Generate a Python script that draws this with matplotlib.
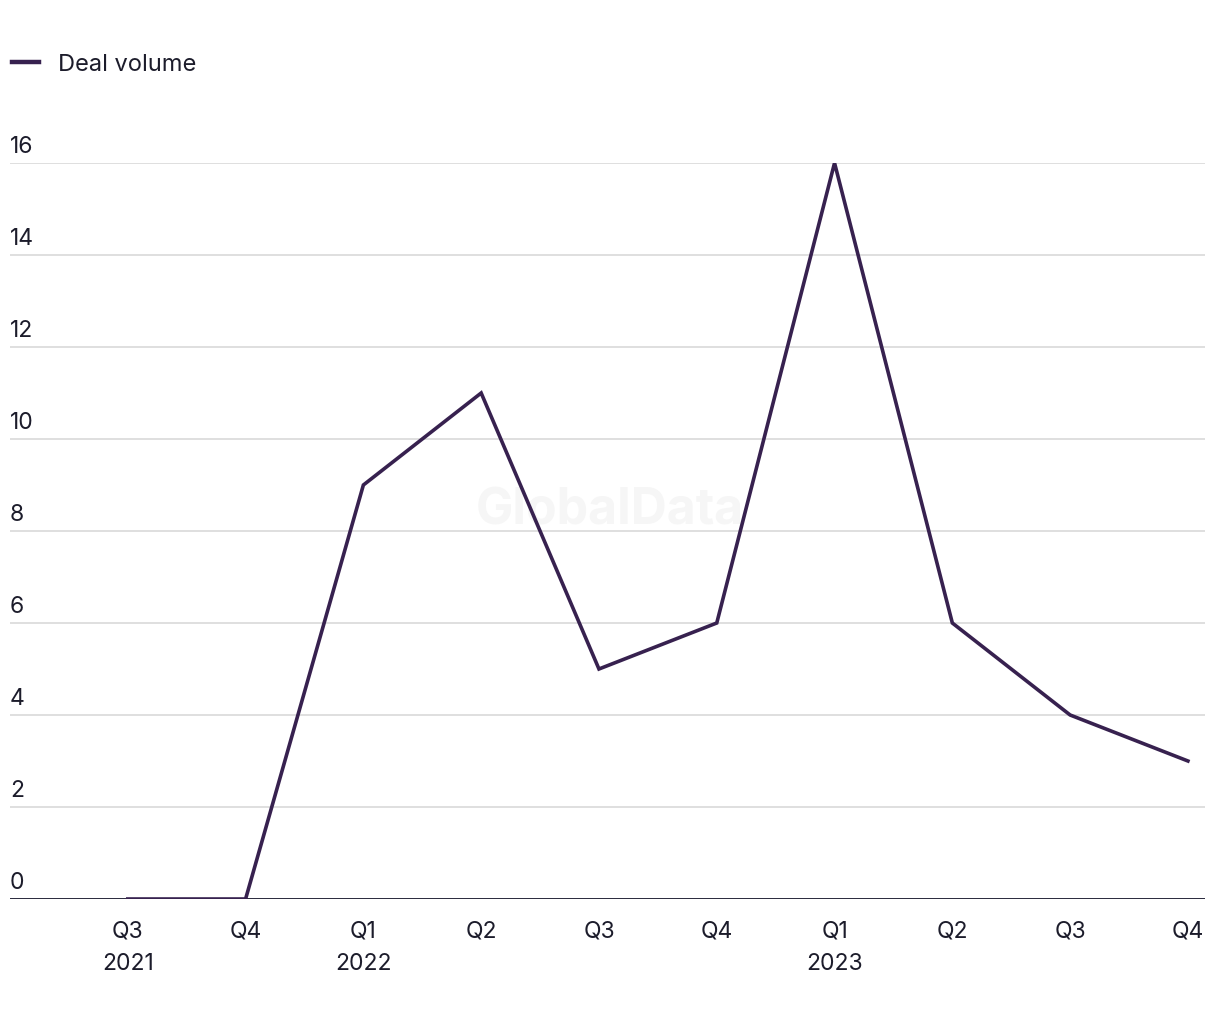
import matplotlib
matplotlib.use('Agg')
import matplotlib.pyplot as plt

plt.rcParams['font.family'] = ['Inter', 'DejaVu Sans']

quarters = ['Q3\n2021', 'Q4', 'Q1\n2022', 'Q2', 'Q3', 'Q4', 'Q1\n2023', 'Q2', 'Q3', 'Q4']
deal_volume = [0, 0, 9, 11, 5, 6, 16, 6, 4, 3]
y_ticks = [0, 2, 4, 6, 8, 10, 12, 14, 16]

line_color = '#37214f'
text_color = '#1c1c2b'

fig = plt.figure(figsize=(12.2, 10.2), dpi=100)
ax = fig.add_axes([10 / 1220, 120 / 1020, 1195 / 1220, 736 / 1020])

x = list(range(len(quarters)))
ax.plot(x, deal_volume, color=line_color, lw=2.6, label='Deal volume',
        solid_joinstyle='miter', zorder=3)

ax.set_xlim(-1.0, 9.145)
ax.set_ylim(0, 16)

# gridlines + left-aligned y labels sitting above them
for v in y_ticks:
    if v == 0:
        ax.axhline(v, color='#15152a', lw=2.0, zorder=2)
    else:
        ax.axhline(v, color='#d6d6d6', lw=1.1, zorder=1)
    ax.annotate(str(v), xy=(0, v), xycoords=('axes fraction', 'data'),
                xytext=(0, 4), textcoords='offset points',
                ha='left', va='bottom', fontsize=16.5, color=text_color)

ax.set_yticks([])
ax.set_xticks(x)
ax.set_xticklabels(quarters, fontsize=16.5, color=text_color, linespacing=1.6)
ax.tick_params(axis='x', length=0, pad=15)
for s in ax.spines.values():
    s.set_visible(False)

ax.text(0.5, 0.499, 'GlobalData', transform=fig.transFigure, ha='center', va='center',
        fontsize=36, fontweight='bold', color='#f6f6f6', zorder=0)

leg = fig.legend(loc='center left', bbox_to_anchor=(12 / 1220, 0.936), frameon=False,
                 fontsize=17, handlelength=1.15, handletextpad=0.8,
                 borderpad=0, borderaxespad=0, labelcolor=text_color)
for l in leg.get_lines():
    l.set_linewidth(3.2)

fig.savefig('out.png', dpi=100)
